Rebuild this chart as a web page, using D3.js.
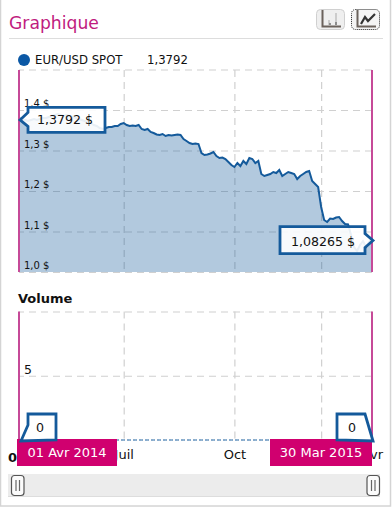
<!DOCTYPE html>
<html>
<head>
<meta charset="utf-8">
<script src="https://cdn.jsdelivr.net/npm/d3@7"></script>
<style>
  body { margin: 0; background: #fff; }
  svg { display: block; }
  text { font-family: "DejaVu Sans", sans-serif; fill: #111; }
</style>
</head>
<body>
<div id="chart"></div>
<script>
const seriesName = "EUR/USD SPOT";
const firstLabel = "1,3792 $";
const lastLabel = "1,08265 $";
const startDate = "01 Avr 2014";
const endDate = "30 Mar 2015";

const gridIndex = [35, 72, 101];
const labelIndex = [35, 72, 118];
const monthLabels = ["Juil", "Oct", "Avr"];
const priceGrid = [1.0, 1.1, 1.2, 1.3, 1.4, 1.5];
const priceTicks = [1.0, 1.1, 1.2, 1.3, 1.4];
const volumeTicks = [5, 10];

const prices = [
  1.3792, 1.3778, 1.3753, 1.3728, 1.3753, 1.3778, 1.3753, 1.3778, 1.3802, 1.3802,
  1.3827, 1.3852, 1.3877, 1.3901, 1.3877, 1.3852, 1.3877, 1.3852, 1.3827, 1.3802,
  1.3778, 1.3753, 1.3728, 1.3704, 1.3679, 1.3630, 1.3605, 1.3556, 1.3531, 1.3556,
  1.3580, 1.3580, 1.3605, 1.3605, 1.3654, 1.3679, 1.3630, 1.3605, 1.3617, 1.3605,
  1.3630, 1.3531, 1.3506, 1.3531, 1.3457, 1.3432, 1.3395, 1.3383, 1.3407, 1.3358,
  1.3383, 1.3370, 1.3383, 1.3395, 1.3383, 1.3284, 1.3235, 1.3185, 1.3160, 1.3173,
  1.3160, 1.2938, 1.2889, 1.2901, 1.2926, 1.2963, 1.2864, 1.2815, 1.2827, 1.2790,
  1.2716, 1.2642, 1.2593, 1.2691, 1.2617, 1.2741, 1.2667, 1.2815, 1.2790, 1.2691,
  1.2741, 1.2420, 1.2370, 1.2395, 1.2420, 1.2469, 1.2444, 1.2519, 1.2370, 1.2420,
  1.2469, 1.2444, 1.2420, 1.2296, 1.2370, 1.2420, 1.2469, 1.2494, 1.2247, 1.2173,
  1.2099, 1.1605, 1.1284, 1.1235, 1.1321, 1.1309, 1.1346, 1.1358, 1.1259, 1.1185,
  1.1173, 1.0914, 1.0617, 1.0519, 1.0667, 1.0765, 1.0617, 1.0741, 1.08265
];

const volumes = [
  0, 0, 0, 0, 0, 0, 0, 0, 0, 0, 0, 0, 0, 0, 0, 0, 0, 0, 0, 0,
  0, 0, 0, 0, 0, 0, 0, 0, 0, 0, 0, 0, 0, 0, 0, 0, 0, 0, 0, 0,
  0, 0, 0, 0, 0, 0, 0, 0, 0, 0, 0, 0, 0, 0, 0, 0, 0, 0, 0, 0,
  0, 0, 0, 0, 0, 0, 0, 0, 0, 0, 0, 0, 0, 0, 0, 0, 0, 0, 0, 0,
  0, 0, 0, 0, 0, 0, 0, 0, 0, 0, 0, 0, 0, 0, 0, 0, 0, 0, 0, 0,
  0, 0, 0, 0, 0, 0, 0, 0, 0, 0, 0, 0, 0, 0, 0, 0, 0, 0, 0
];

const width = 392, height = 507;
const left = 19, right = 372;
const blue = "#145a9b", pink = "#d0006f";

const x = d3.scaleLinear().domain([0, prices.length - 1]).range([left, right]);
const y = d3.scaleLinear().domain([1.0, 1.5]).range([272, 69.5]);
const yVol = d3.scaleLinear().domain([0, 10]).range([440, 311.5]);

const svg = d3.select("#chart").append("svg")
  .attr("width", width)
  .attr("height", height);

// panel
svg.append("rect")
  .attr("x", 0.5).attr("y", -2)
  .attr("width", 390).attr("height", 508)
  .attr("fill", "#fff").attr("stroke", "#d4d4d4").attr("stroke-width", 1.5);

svg.append("text")
  .attr("x", 9).attr("y", 29)
  .style("font-size", "17.2px").style("fill", "#bf1b80")
  .text("Graphique");

svg.append("line")
  .attr("x1", 9).attr("x2", 383)
  .attr("y1", 38.5).attr("y2", 38.5)
  .attr("stroke", "#ddd");

// chart type buttons
const button = (bx, dotted) => {
  const g = svg.append("g").attr("transform", `translate(${bx},9)`);
  g.append("rect")
    .attr("x", 0.5).attr("y", 0.5).attr("width", 28).attr("height", 20).attr("rx", 4)
    .attr("fill", dotted ? "#f4f4f4" : "#efefef")
    .attr("stroke", dotted ? "#222" : "#d0d0d0")
    .attr("stroke-dasharray", dotted ? "1,1" : null);
  g.append("path")
    .attr("d", "M6.5 1V17.5H25")
    .attr("fill", "none").attr("stroke", "#6b625c").attr("stroke-width", 2);
  return g;
};
const b1 = button(316, false);
b1.append("path").attr("d", "M13 11v5M20 4v12").attr("stroke", "#ccc").attr("stroke-width", 2);
b1.append("path").attr("d", "M14 14v2M20 13v3").attr("stroke", "#777").attr("stroke-width", 1.5);
const b2 = button(351, true);
b2.append("path").attr("d", "M10 15L14 8L17 12L24 5")
  .attr("fill", "none").attr("stroke", "#333").attr("stroke-width", 2.2);

// legend
svg.append("circle").attr("cx", 24).attr("cy", 60).attr("r", 6).attr("fill", "#0b58a5");
svg.append("text").attr("x", 35).attr("y", 64).style("font-size", "11.7px").text(seriesName);
svg.append("text").attr("x", 147).attr("y", 64).style("font-size", "11.7px")
  .text(d3.format(".4f")(prices[0]).replace(".", ","));

// grid lines
const dash = g => g.call(g => g.select(".domain").remove())
  .call(g => g.selectAll(".tick line")
    .attr("stroke", "#d0d0d0").attr("stroke-width", 1.2).attr("stroke-dasharray", "7,5"));

const xGrid = (top, bottom) => g => g
  .attr("transform", `translate(0,${top})`)
  .call(d3.axisBottom(x).tickValues(gridIndex).tickSize(bottom - top).tickFormat(""))
  .call(dash);

const yGrid = (scale, ticks) => g => g
  .attr("transform", `translate(${right},0)`)
  .call(d3.axisLeft(scale).tickValues(ticks).tickSize(right - left).tickFormat(""))
  .call(dash);

svg.append("g").call(xGrid(70, 272));
svg.append("g").call(yGrid(y, priceGrid));
svg.append("g").call(xGrid(311.5, 440));
svg.append("g").call(yGrid(yVol, volumeTicks));

// price area
svg.append("path")
  .datum(prices)
  .attr("fill", "#145a9b").attr("fill-opacity", 0.33)
  .attr("d", d3.area().x((d, i) => x(i)).y0(y(1.0)).y1(d => y(d)));

svg.append("path")
  .datum(prices)
  .attr("fill", "none").attr("stroke", blue).attr("stroke-width", 2)
  .attr("d", d3.line().x((d, i) => x(i)).y(d => y(d)));

// volume baseline
svg.append("path")
  .datum(volumes)
  .attr("fill", "none").attr("stroke", blue).attr("stroke-width", 1)
  .attr("stroke-dasharray", "4,2")
  .attr("d", d3.line().x((d, i) => x(i)).y(d => yVol(d)));

// y labels sit inside the plot
svg.append("g")
  .attr("transform", `translate(${left + 5},0)`)
  .call(d3.axisRight(y).tickValues(priceTicks).tickSize(0).tickPadding(0)
    .tickFormat(d => d3.format(".1f")(d).replace(".", ",") + " $"))
  .call(g => g.select(".domain").remove())
  .call(g => g.selectAll("text")
    .attr("dy", -3.5).attr("dominant-baseline", "auto").style("font-size", "10px"));

svg.append("g")
  .attr("transform", `translate(${left + 5},0)`)
  .call(d3.axisRight(yVol).tickValues([5]).tickSize(0).tickPadding(0))
  .call(g => g.select(".domain").remove())
  .call(g => g.selectAll("text")
    .attr("dy", -2).attr("dominant-baseline", "auto").style("font-size", "12.5px"));

svg.append("text")
  .attr("x", 18).attr("y", 303)
  .style("font-size", "13px").style("font-weight", "bold")
  .text("Volume");

// plot edges
[left, right].forEach(px => {
  [[70, 272], [311.5, 440]].forEach(([a, b]) => {
    svg.append("line")
      .attr("x1", px).attr("x2", px).attr("y1", a).attr("y2", b)
      .attr("stroke", "#c64a98").attr("stroke-width", 2);
  });
});

// month labels, partly hidden by the date tags
svg.append("g")
  .attr("transform", "translate(0,440)")
  .call(d3.axisBottom(x).tickValues(labelIndex).tickSize(0).tickPadding(10)
    .tickFormat((d, i) => monthLabels[i]))
  .call(g => g.select(".domain").remove())
  .call(g => g.selectAll("text").style("font-size", "13px"));

svg.append("text")
  .attr("x", 8).attr("y", 462)
  .style("font-size", "13px").style("font-weight", "bold")
  .text("0");

// date tags
const dateTag = (x0, x1, label) => {
  svg.append("rect")
    .attr("x", x0).attr("y", 439)
    .attr("width", x1 - x0).attr("height", 27)
    .attr("fill", pink);
  svg.append("text")
    .attr("x", (x0 + x1) / 2).attr("y", 457)
    .attr("text-anchor", "middle")
    .style("font-size", "13px").style("fill", "#fff")
    .text(label);
};
dateTag(17, 117, startDate);
dateTag(270, 372, endDate);

// value callouts
const callout = (points, label, tx, ty, size) => {
  svg.append("path")
    .attr("d", d3.line()(points) + "Z")
    .attr("fill", "#fff").attr("fill-opacity", 0.9)
    .attr("stroke", blue).attr("stroke-width", 2.8);
  svg.append("text")
    .attr("x", tx).attr("y", ty)
    .attr("text-anchor", "middle")
    .style("font-size", size)
    .text(label);
};

const x0 = x(0), x1 = x(prices.length - 1);
const y0 = y(prices[0]), y1 = y(prices[prices.length - 1]);

callout([[x0 + 1, y0 + 1.5], [28, y0 - 6], [28, y0 - 11], [105, y0 - 11], [105, y0 + 14], [28, y0 + 14], [28, y0 + 8]],
  firstLabel, 65, y0 + 6, "12.6px");
callout([[x1 + 1, y1 + 2], [365, y1 - 5], [365, y1 - 12], [280, y1 - 12], [280, y1 + 15], [365, y1 + 15], [365, y1 + 9]],
  lastLabel, 323, y1 + 7, "12.6px");

const v0 = yVol(volumes[0]);
callout([[x0 + 2, v0 + 1], [28, v0 - 15], [28, v0 - 26], [56, v0 - 26], [56, v0]],
  "0", 40, v0 - 8, "12.6px");
callout([[x1 + 1, v0 + 1], [365, v0 - 26], [337, v0 - 26], [337, v0]],
  "0", 352, v0 - 8, "12.6px");

// range slider
svg.append("rect")
  .attr("x", 8).attr("y", 474)
  .attr("width", 372).attr("height", 22.5)
  .attr("fill", "#ececec");
svg.append("line")
  .attr("x1", 8).attr("x2", 380).attr("y1", 496.5).attr("y2", 496.5)
  .attr("stroke", "#ddd");

[x0 - 0.5, x1 + 2].forEach(px => {
  const g = svg.append("g").attr("transform", `translate(${px - 7.5},475)`);
  g.append("rect")
    .attr("x", 0.5).attr("y", 0.5).attr("width", 12.5).attr("height", 20).attr("rx", 3)
    .attr("fill", "#fbfbfb").attr("stroke", "#555").attr("stroke-width", 1.2);
  g.append("path")
    .attr("d", "M5 5V16M8.5 5V16")
    .attr("stroke", "#666").attr("stroke-width", 1.2);
});
</script>
</body>
</html>
